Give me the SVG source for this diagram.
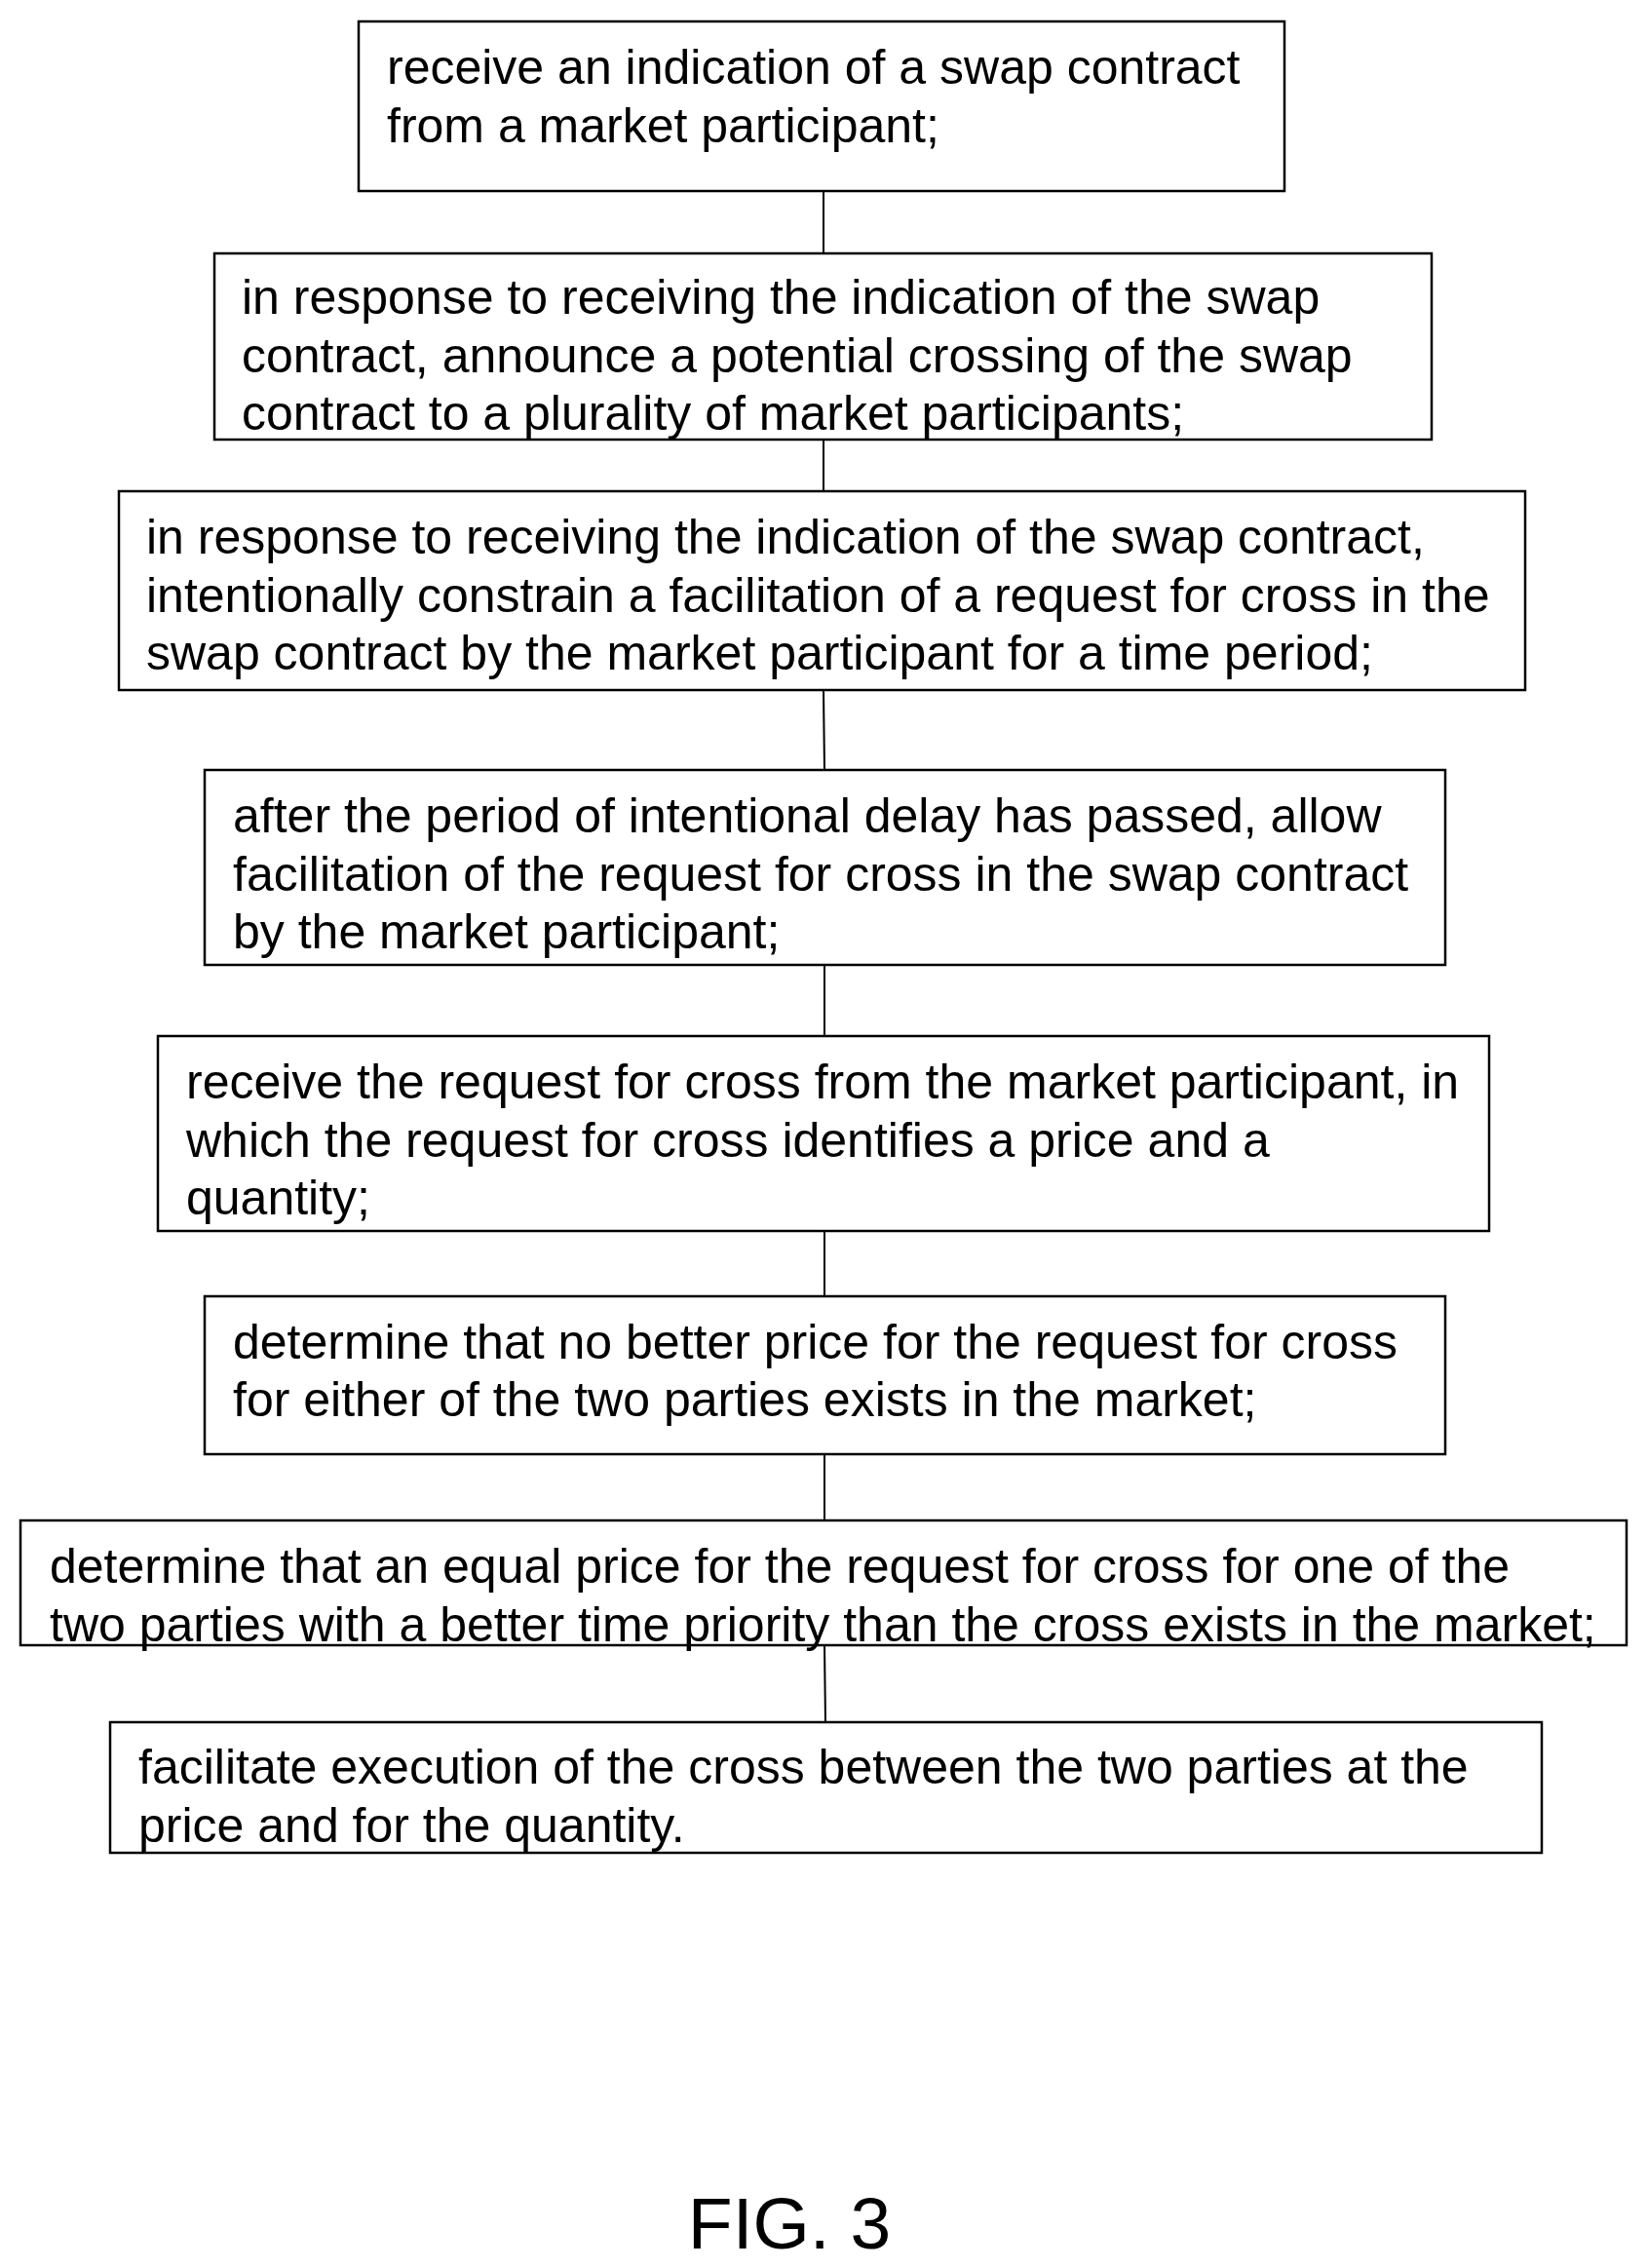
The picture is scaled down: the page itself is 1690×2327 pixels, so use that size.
<svg xmlns="http://www.w3.org/2000/svg" width="1690" height="2327" viewBox="0 0 1690 2327">
<style>
rect{fill:#fff;stroke:#000;stroke-width:2.5}
text{font-family:"Liberation Sans",Arial,sans-serif;font-size:50px;fill:#000}
line{stroke:#000;stroke-width:2}
</style>
<rect x="0" y="0" width="1690" height="2327" style="stroke:none"/>
<g id="connectors">
<line x1="845" y1="196" x2="845" y2="260"/>
<line x1="845" y1="451" x2="845" y2="504"/>
<line x1="845" y1="708" x2="846" y2="790"/>
<line x1="846" y1="990" x2="846" y2="1063"/>
<line x1="846" y1="1263" x2="846" y2="1330"/>
<line x1="846" y1="1492" x2="846" y2="1560"/>
<line x1="846" y1="1688" x2="847" y2="1767"/>
</g>
<g id="n1"><rect x="368" y="22" width="950" height="174"/><text x="397" y="86">receive an indication of a swap contract</text><text x="397" y="146">from a market participant;</text></g>
<g id="n2"><rect x="220" y="260" width="1249" height="191"/><text x="248" y="322">in response to receiving the indication of the swap</text><text x="248" y="382">contract, announce a potential crossing of the swap</text><text x="248" y="441">contract to a plurality of market participants;</text></g>
<g id="n3"><rect x="122" y="504" width="1443" height="204"/><text x="150" y="568">in response to receiving the indication of the swap contract,</text><text x="150" y="628">intentionally constrain a facilitation of a request for cross in the</text><text x="150" y="687">swap contract by the market participant for a time period;</text></g>
<g id="n4"><rect x="210" y="790" width="1273" height="200"/><text x="239" y="854">after the period of intentional delay has passed, allow</text><text x="239" y="914">facilitation of the request for cross in the swap contract</text><text x="239" y="973">by the market participant;</text></g>
<g id="n5"><rect x="162" y="1063" width="1366" height="200"/><text x="191" y="1127">receive the request for cross from the market participant, in</text><text x="191" y="1187">which the request for cross identifies a price and a</text><text x="191" y="1246">quantity;</text></g>
<g id="n6"><rect x="210" y="1330" width="1273" height="162"/><text x="239" y="1394">determine that no better price for the request for cross</text><text x="239" y="1453">for either of the two parties exists in the market;</text></g>
<g id="n7"><rect x="21" y="1560" width="1648" height="128"/><text x="51" y="1624">determine that an equal price for the request for cross for one of the</text><text x="51" y="1684">two parties with a better time priority than the cross exists in the market;</text></g>
<g id="n8"><rect x="113" y="1767" width="1469" height="134"/><text x="142" y="1830">facilitate execution of the cross between the two parties at the</text><text x="142" y="1890">price and for the quantity.</text></g>
<text x="810" y="2307" text-anchor="middle" style="font-size:75px">FIG. 3</text>
</svg>
